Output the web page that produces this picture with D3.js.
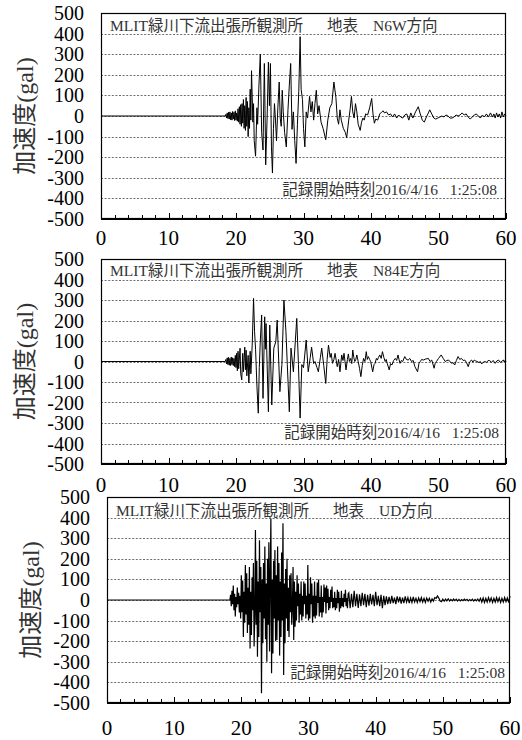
<!DOCTYPE html>
<html>
<head>
<meta charset="utf-8">
<script src="https://cdn.jsdelivr.net/npm/d3@7"></script>
<style>
  html, body { margin: 0; padding: 0; background: #fff; }
  svg { display: block; }
</style>
</head>
<body>
<svg id="chart" width="522" height="740"></svg>
<script>
// ---- text ----
const stationName = "MLIT緑川下流出張所観測所";
const siteName = "地表";
const directions = ["N6W方向", "N84E方向", "UD方向"];
const recordStart = "記録開始時刻2016/4/16\u00a0\u00a0\u00a01:25:08";
const yAxisTitle = "加速度(gal)";

// ---- ticks ----
const xTickLabels = [0, 10, 20, 30, 40, 50, 60];
const xMinorTicks = [0, 2, 4, 6, 8, 10, 12, 14, 16, 18, 20, 22, 24, 26, 28, 30, 32, 34, 36, 38, 40, 42, 44, 46, 48, 50, 52, 54, 56, 58, 60];
const yTickLabels = [500, 400, 300, 200, 100, 0, -100, -200, -300, -400, -500];

// ---- N6W component: [time (s), acceleration (gal)] ----
const n6wTrace = [
  [0,0],[18.4,0],[18.5,8],[18.6,-10],[18.7,15],[18.8,-12],[18.9,18],[19.0,-15],[19.1,20],[19.2,-18],
  [19.3,15],[19.4,-20],[19.5,22],[19.6,-15],[19.7,18],[19.8,-22],[19.9,25],[20.0,-20],[20.1,15],[20.2,-25],
  [20.3,35],[20.4,-30],[20.5,45],[20.6,-40],[20.7,55],[20.8,-50],[20.9,60],[21.0,-35],[21.1,80],[21.2,-60],
  [21.3,50],[21.4,-70],[21.5,90],[21.6,-50],[21.7,70],[21.8,-100],[21.9,40],[22.0,-60],[22.1,130],[22.2,-20],
  [22.3,220],[22.5,-30],[22.6,60],[22.7,-120],[22.9,-195],[23.1,40],[23.2,-40],[23.4,150],[23.6,300],[23.8,-80],
  [24.0,-165],[24.2,255],[24.3,30],[24.4,-237],[24.6,-20],[24.8,262],[24.95,50],[25.1,255],[25.25,-150],[25.4,-277],
  [25.55,-60],[25.7,60],[25.85,-20],[26.0,-120],[26.2,40],[26.4,165],[26.55,-10],[26.7,-50],[26.85,125],[27.0,20],
  [27.2,-80],[27.45,-150],[27.7,30],[27.9,150],[28.1,255],[28.3,-65],[28.5,20],[28.7,-120],[28.9,-230],[29.1,-40],
  [29.3,120],[29.5,385],[29.65,130],[29.85,80],[30.0,-60],[30.2,-150],[30.4,20],[30.6,-10],[30.9,95],[31.1,20],
  [31.3,70],[31.5,-20],[31.7,60],[31.9,125],[32.1,10],[32.3,50],[32.6,-30],[32.9,-60],[33.3,-115],[33.6,-20],
  [33.9,40],[34.2,60],[34.5,165],[34.8,90],[35.0,-10],[35.2,-40],[35.4,30],[35.6,-20],[35.9,-60],[36.2,-80],
  [36.4,-105],[36.7,-20],[36.9,30],[37.1,95],[37.3,20],[37.5,-10],[37.7,60],[37.9,20],[38.1,-40],[38.4,-70],
  [38.6,-30],[38.8,-10],[39.0,-20],[39.2,10],[39.5,5],[39.8,40],[40.1,85],[40.3,10],[40.5,-35],[40.7,-15],
  [41.0,-20],[41.3,10],[41.6,20],[41.8,25],[42.0,15],[42.3,20],[42.6,5],[42.9,10],[43.2,-5],[43.5,10],
  [43.8,-10],[44.1,5],[44.4,-5],[44.7,-10],[45.0,5],[45.3,10],[45.6,-20],[45.9,15],[46.2,-10],[46.6,20],
  [47.0,45],[47.3,10],[47.6,-20],[47.9,-30],[48.2,-5],[48.5,15],[48.7,30],[49.0,10],[49.3,-10],[49.6,-15],
  [49.9,-10],[50.2,-5],[50.5,0],[50.8,-5],[51.1,5],[51.4,0],[51.7,-10],[52.0,-10],[52.3,-5],[52.6,5],
  [52.9,0],[53.2,5],[53.5,15],[53.8,5],[54.1,10],[54.4,-5],[54.7,-15],[55.0,-5],[55.3,5],[55.6,10],
  [55.9,0],[56.2,-10],[56.5,5],[56.8,-5],[57.1,10],[57.4,-5],[57.7,15],[58.0,-5],[58.2,10],[58.4,-10],
  [58.6,15],[58.8,-5],[59.0,10],[59.2,-10],[59.4,20],[59.6,-5],[59.8,10],[60.0,0]
];

// ---- N84E component: [time (s), acceleration (gal)] ----
const n84eTrace = [
  [0,0],[18.4,0],[18.5,10],[18.6,-12],[18.7,18],[18.8,-15],[18.9,20],[19.0,-18],[19.1,15],[19.2,-20],
  [19.3,22],[19.4,-15],[19.5,18],[19.6,-20],[19.7,15],[19.8,-25],[19.9,30],[20.0,-30],[20.1,40],[20.2,-45],
  [20.3,50],[20.4,-35],[20.6,65],[20.7,-60],[20.85,-90],[21.0,40],[21.1,-50],[21.3,70],[21.4,-40],[21.5,55],
  [21.6,-70],[21.8,30],[21.9,-105],[22.1,50],[22.2,-60],[22.4,80],[22.6,308],[22.75,145],[22.9,60],[23.1,-120],
  [23.3,-252],[23.45,-30],[23.6,100],[23.8,227],[24.0,-180],[24.25,218],[24.35,60],[24.45,185],[24.8,-245],[25.0,178],
  [25.3,-212],[25.6,65],[25.9,97],[26.1,202],[26.5,-147],[26.8,-15],[27.1,300],[27.4,145],[27.6,-15],[27.9,-245],
  [28.15,65],[28.5,-50],[29.0,210],[29.25,-15],[29.5,-276],[29.75,-15],[30.0,-30],[30.4,105],[30.7,-50],[31.0,20],
  [31.2,70],[31.5,-10],[31.7,0],[32.0,-30],[32.2,-50],[32.5,20],[32.7,65],[33.0,-20],[33.3,-107],[33.5,10],
  [33.7,80],[33.95,20],[34.1,40],[34.3,-9],[34.5,10],[34.67,40],[34.85,5],[35.0,-25],[35.2,10],[35.4,-50],
  [35.66,32],[35.85,5],[36.0,40],[36.15,0],[36.3,-41],[36.5,10],[36.65,37],[36.8,0],[37.0,15],[37.15,-10],
  [37.3,56],[37.45,20],[37.6,0],[37.75,10],[37.9,32],[38.1,0],[38.3,-33],[38.5,-74],[38.7,-20],[38.9,15],
  [39.1,0],[39.3,48],[39.45,10],[39.6,24],[39.8,10],[39.95,0],[40.25,-50],[40.45,-15],[40.6,-9],[40.8,15],
  [40.95,7],[41.1,20],[41.3,32],[41.5,15],[41.7,48],[41.9,20],[42.1,0],[42.25,10],[42.4,-9],[42.7,-41],
  [42.9,-10],[43.1,-17],[43.35,5],[43.6,15],[43.8,5],[44.0,32],[44.15,10],[44.3,-9],[44.5,5],[44.7,0],
  [45.0,24],[45.25,10],[45.5,7],[45.75,15],[46.0,0],[46.25,5],[46.5,-25],[46.9,-50],[47.1,-10],[47.3,0],
  [47.5,10],[47.75,7],[48.1,12],[48.5,15],[48.75,0],[49.0,7],[49.35,-33],[49.5,-10],[49.7,0],[50.0,15],
  [50.4,32],[50.7,15],[51.0,0],[51.25,5],[51.5,7],[51.95,-9],[52.15,-5],[52.4,-17],[52.65,5],[52.9,24],
  [53.15,10],[53.4,15],[53.65,5],[53.9,7],[54.15,-5],[54.4,-25],[54.65,0],[54.9,7],[55.1,-3],[55.3,7],
  [55.5,3],[55.7,0],[56.0,-5],[56.2,0],[56.4,-12],[56.65,-3],[56.9,0],[57.1,-5],[57.35,5],[57.6,4],
  [57.85,-4],[58.1,5],[58.4,-9],[58.65,3],[58.9,7],[59.15,-4],[59.4,0],[59.6,8],[59.75,-3],[59.9,7],[60.0,0]
];

// ---- UD component: evenly sampled from 18.0 s at 0.1 s, then from 36.0 s at 0.2 s ----
const udStart = 18.0, udStep = 0.1;
const udValues = [
  0, 0, 0, 0, 25, -30, 45, -20, 70, -50,                               // 18.x
  30, -80, 15, -35, 60, -20, 35, -60, 20, -90,                         // 19.x
  120, -60, 95, -180, 40, -110, 170, -70, 130, -160,                   // 20.x
  60, -120, 160, -235, 40, -170, 110, -50, 180, -226,                  // 21.x
  -80, 340, -120, 190, -275, 90, -180, 290, -60, 160,                  // 22.x
  -453, 100, -210, 180, -90, 260, -190, 80, -300, 200,                 // 23.x
  -120, 280, -250, 130, 396, -356, 100, -260, 190, -90,                // 24.x
  243, -200, 120, -194, 260, -100, 180, -270, 90, -180,                // 25.x
  230, -100, 372, -364, 80, -210, 150, -90, 200, -150,                 // 26.x
  60, -180, 120, -60, 130, -120, -40, 160, -194, 90,                   // 27.x
  -130, 40, -100, 120, -30, 80, -110, 30, -70, 90,                     // 28.x
  -100, 20, -80, 90, -20, 80, -90, 20, -70, 170,                       // 29.x
  -100, 30, -90, 110, -20, 80, -110, 20, -80, 90,                      // 30.x
  -90, 20, -75, 85, -15, 100, -80, 15, -60, 70,                        // 31.x
  -85, 15, -60, 75, -10, 60, -65, 70, -15, 55,                         // 32.x
  -50, 15, -40, 50, -10, 65, -40, 10, -35, 40,                         // 33.x
  -50, 10, -40, 50, -15, 40, -57, 10, -40, 45,                         // 34.x
  -30, 10, -35, 30, -10, 50, -30, 10, -40, 30                          // 35.x
];
const udTailStart = 36.0, udTailStep = 0.2;
const udTailValues = [
  35, -40, 30, -35, 45,     // 36
  -30, 30, -38, 28, -30,    // 37
  35, -25, 30, -35, 25,     // 38
  -28, 30, -22, 25, -30,    // 39
  40, -25, 20, -30, 25,     // 40
  -40, 20, -25, 18, -20,    // 41
  15, -18, 20, -15, 12,     // 42
  -20, 18, -12, 15, -18,    // 43
  12, -15, 18, -10, 12,     // 44
  -15, 10, -12, 15, -10,    // 45
  8, -12, 10, -8, 12,       // 46
  -10, 8, -12, 10, -6,      // 47
  8, -10, 6, -5, 12,        // 48
  8, 20, 10, -5, -8,        // 49
  4, -6, 5, -4, 6,          // 50
  -5, 3, -4, 5, -3,         // 51
  4, -5, 3, -4, 2,          // 52
  -3, 4, -2, 3, -4,         // 53
  2, -3, 4, -5, 3,          // 54
  -4, 5, -6, 8, -10,        // 55
  10, -12, 8, -10, 12,      // 56
  -8, 10, -12, 8, -10,      // 57
  12, -8, 10, -12, 8,       // 58
  -10, 12, -8, 10, -12,     // 59
  20                        // 60
];

// Turn the evenly sampled UD record into [time, value] pairs.
const udTrace = [[0, 0]]
  .concat(udValues.map((v, i) => [udStart + i * udStep, v]))
  .concat(udTailValues.map((v, i) => [udTailStart + i * udTailStep, v]));

// ---- layout of the three stacked panels ----
const panels = [
  { trace: n6wTrace,  dir: directions[0], left: 101, top: 13,  width: 405, height: 206, stroke: 1,
    yLabelRight: 84, yTitleX: 25, xLabelBase: 245, titleBase: 31,  stampRight: 497, stampBase: 195 },
  { trace: n84eTrace, dir: directions[1], left: 101, top: 259, width: 405, height: 205, stroke: 1,
    yLabelRight: 84, yTitleX: 25, xLabelBase: 492, titleBase: 276, stampRight: 499, stampBase: 438 },
  { trace: udTrace,   dir: directions[2], left: 107, top: 497, width: 403, height: 206, stroke: 1.2,
    yLabelRight: 90, yTitleX: 31, xLabelBase: 735, titleBase: 516, stampRight: 505, stampBase: 678 }
];

const svg = d3.select("#chart");
const serif = "'Liberation Serif', serif";
const cjk = "'Liberation Serif', 'Noto Sans CJK JP', sans-serif";

panels.forEach((p, idx) => {
  const x = d3.scaleLinear().domain([0, 60]).range([p.left, p.left + p.width]);
  const y = d3.scaleLinear().domain([-500, 500]).range([p.top + p.height, p.top]);
  const g = svg.append("g").attr("class", "panel panel-" + idx);

  // dashed horizontal grid
  g.append("g").selectAll("line")
    .data(yTickLabels.filter(v => v !== 500 && v !== -500))
    .join("line")
    .attr("x1", p.left).attr("x2", p.left + p.width)
    .attr("y1", d => Math.round(y(d)) + 0.5).attr("y2", d => Math.round(y(d)) + 0.5)
    .attr("stroke", "#6e6e6e").attr("stroke-width", 1)
    .attr("stroke-dasharray", "2,1.6");

  // acceleration trace
  const line = d3.line().x(d => x(d[0])).y(d => y(d[1]));
  g.append("path")
    .datum(p.trace)
    .attr("d", line)
    .attr("fill", "none")
    .attr("stroke", "#000")
    .attr("stroke-width", p.stroke)
    .attr("stroke-linejoin", "miter");

  // inner ticks along the time axis
  const bottom = p.top + p.height;
  g.append("g").selectAll("line")
    .data(xMinorTicks)
    .join("line")
    .attr("x1", d => Math.round(x(d)) + 0.5).attr("x2", d => Math.round(x(d)) + 0.5)
    .attr("y1", bottom)
    .attr("y2", d => bottom - (d % 10 === 0 ? 6 : 4))
    .attr("stroke", "#000").attr("stroke-width", 1);

  // frame
  g.append("rect")
    .attr("x", p.left + 0.5).attr("y", p.top + 0.5)
    .attr("width", p.width - 1).attr("height", p.height - 1)
    .attr("fill", "none").attr("stroke", "#000").attr("stroke-width", 1.2);
  g.append("line")
    .attr("x1", p.left).attr("x2", p.left + p.width)
    .attr("y1", bottom).attr("y2", bottom)
    .attr("stroke", "#000").attr("stroke-width", 2);

  // y tick labels
  g.append("g").selectAll("text")
    .data(yTickLabels)
    .join("text")
    .attr("x", p.yLabelRight)
    .attr("y", d => y(d))
    .attr("dy", "0.35em")
    .attr("text-anchor", "end")
    .attr("font-family", serif)
    .attr("font-size", 20)
    .attr("fill", "#000")
    .text(d => d);

  // x tick labels
  g.append("g").selectAll("text")
    .data(xTickLabels)
    .join("text")
    .attr("x", d => x(d))
    .attr("y", p.xLabelBase)
    .attr("text-anchor", "middle")
    .attr("font-family", serif)
    .attr("font-size", 21)
    .attr("fill", "#000")
    .text(d => d);

  // y axis title
  g.append("text")
    .attr("transform", `translate(${p.yTitleX},${p.top + p.height / 2}) rotate(-90)`)
    .attr("dy", "0.35em")
    .attr("text-anchor", "middle")
    .attr("font-family", cjk)
    .attr("font-size", 24)
    .attr("fill", "#333")
    .text(yAxisTitle);

  // station / component caption
  const cap = g.append("text")
    .attr("y", p.titleBase)
    .attr("font-family", cjk)
    .attr("font-size", 15.5)
    .attr("fill", "#333");
  cap.append("tspan").attr("x", p.left + 9).text(stationName);
  cap.append("tspan").attr("x", p.left + 226).text(siteName);
  cap.append("tspan").attr("x", p.left + 272).text(p.dir);

  // record start time
  g.append("text")
    .attr("x", p.stampRight)
    .attr("y", p.stampBase)
    .attr("text-anchor", "end")
    .attr("font-family", cjk)
    .attr("font-size", 15.5)
    .attr("fill", "#333")
    .text(recordStart);
});
</script>
</body>
</html>
